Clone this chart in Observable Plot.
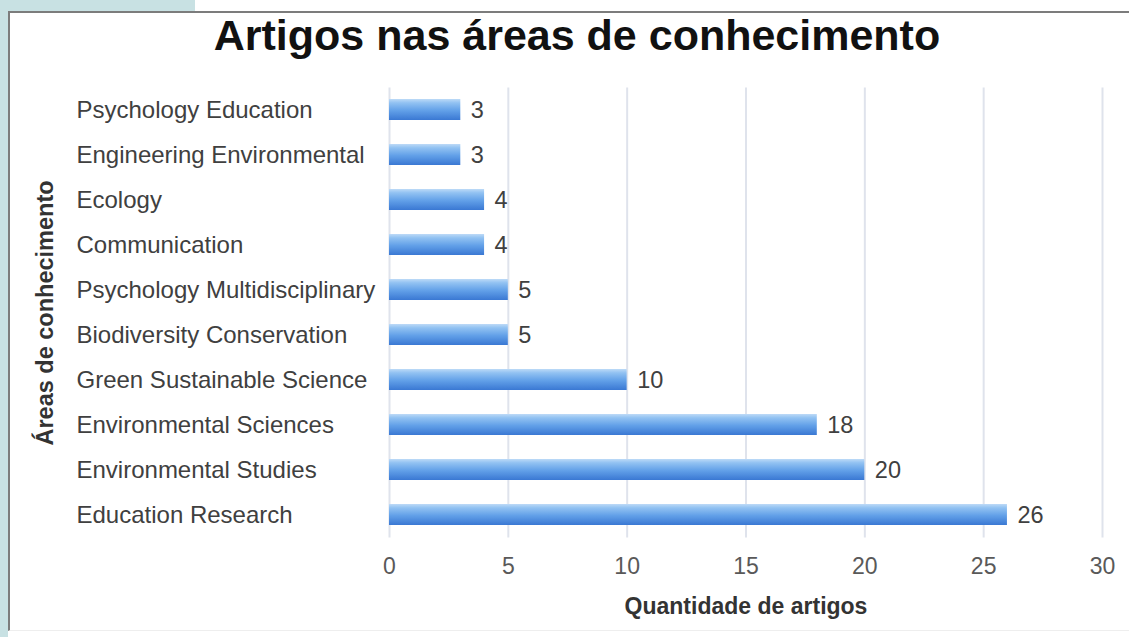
<!DOCTYPE html>
<html>
<head>
<meta charset="utf-8">
<script src="https://cdn.jsdelivr.net/npm/d3@7"></script>
<script src="https://cdn.jsdelivr.net/npm/@observablehq/plot@0.6"></script>
<style>
  html, body { margin: 0; padding: 0; background: #ffffff; }
  #page { position: relative; width: 1129px; height: 637px; overflow: hidden; background: #fff; font-family: "Liberation Sans", Arial, sans-serif; }
  #tealLeft { position: absolute; left: 0; top: 0; width: 8px; height: 637px; background: #c8e1e3; }
  #tealTop { position: absolute; left: 0; top: 0; width: 195px; height: 11px; background: #c8e1e3; }
  #panel { position: absolute; left: 8px; top: 11px; width: 1125px; height: 620px; border-left: 2px solid #7c7c7c; border-top: 2px solid #7c7c7c; border-bottom: 1px solid #eeeeee; box-sizing: border-box; }
  #title { position: absolute; left: 0; top: 13.5px; width: 1154px; text-align: center; font-size: 43px; line-height: 43px; font-weight: bold; color: #111; white-space: nowrap; }
  #chart { position: absolute; left: 0; top: 80px; }
</style>
</head>
<body>
<div id="page">
  <div id="tealLeft"></div>
  <div id="tealTop"></div>
  <div id="panel"></div>
  <div id="title">Artigos nas áreas de conhecimento</div>
  <div id="chart"></div>
</div>
<script>
const categories = [
  "Psychology Education",
  "Engineering Environmental",
  "Ecology",
  "Communication",
  "Psychology Multidisciplinary",
  "Biodiversity Conservation",
  "Green Sustainable Science",
  "Environmental Sciences",
  "Environmental Studies",
  "Education Research"
];
const values = [3, 3, 4, 4, 5, 5, 10, 18, 20, 26];
const xTicks = [0, 5, 10, 15, 20, 25, 30];
const xTitle = "Quantidade de artigos";
const yTitle = "Áreas de conhecimento";

const data = categories.map((c, i) => ({category: c, value: values[i]}));

const gradientDefs = () => {
  const defs = d3.create("svg:defs");
  const g = defs.append("linearGradient")
    .attr("id", "barGrad").attr("x1", 0).attr("y1", 0).attr("x2", 0).attr("y2", 1);
  g.append("stop").attr("offset", "0%").attr("stop-color", "#bddaf7");
  g.append("stop").attr("offset", "18%").attr("stop-color", "#92c2f2");
  g.append("stop").attr("offset", "55%").attr("stop-color", "#62a0e8");
  g.append("stop").attr("offset", "100%").attr("stop-color", "#3a78d3");
  return defs.node();
};

const chart = Plot.plot({
  width: 1129,
  height: 557,
  marginLeft: 389,
  marginRight: 27,
  marginTop: 7.5,
  marginBottom: 99.5,
  style: {fontFamily: "'Liberation Sans', Arial, sans-serif", background: "transparent", overflow: "visible"},
  x: {domain: [0, 30]},
  y: {domain: categories, paddingInner: 0.53, paddingOuter: 0.265, axis: null},
  marks: [
    gradientDefs,
    Plot.gridX({ticks: xTicks, stroke: "#dfe3ec", strokeOpacity: 1, strokeWidth: 2}),
    Plot.barX(data, {x: "value", y: "category", fill: "url(#barGrad)"}),
    Plot.text(data, {x: "value", y: "category", text: d => String(d.value), dx: 10, textAnchor: "start", fontSize: 23.5, fill: "#404040"}),
    Plot.text(categories, {y: d => d, text: d => d, frameAnchor: "left", dx: -313, textAnchor: "start", fontSize: 24, fill: "#404040"}),
    Plot.axisX({ticks: xTicks, tickSize: 0, tickPadding: 20, fontSize: 23, color: "#595959", label: null}),
    Plot.text([xTitle], {text: d => d, frameAnchor: "bottom", textAnchor: "middle", lineAnchor: "middle", dy: 69, fontSize: 23, fontWeight: "bold", fill: "#333"}),
    Plot.text([yTitle], {text: d => d, frameAnchor: "left", textAnchor: "middle", lineAnchor: "middle", dx: -344, rotate: -90, fontSize: 23.5, fontWeight: "bold", fill: "#333"})
  ]
});
document.getElementById("chart").appendChild(chart);
</script>
</body>
</html>
